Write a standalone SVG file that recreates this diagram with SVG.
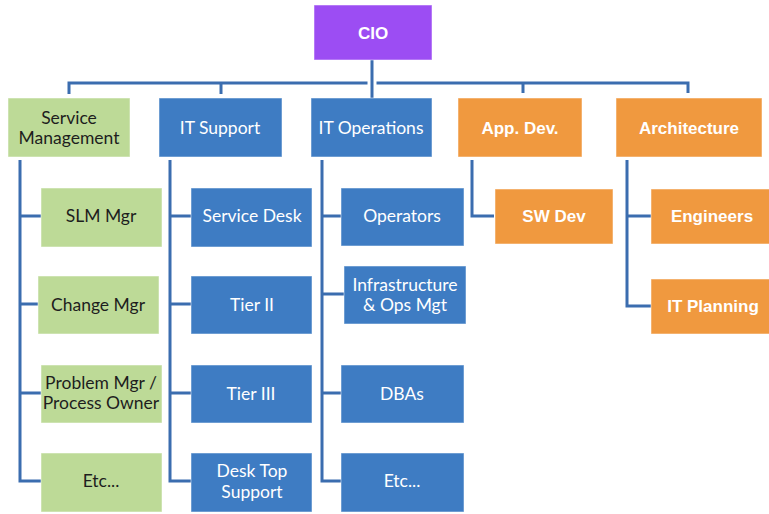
<svg xmlns="http://www.w3.org/2000/svg" width="769" height="514" viewBox="0 0 769 514">
<style>
.box{stroke:#ffffff;stroke-opacity:0.5;stroke-width:1}
.purple{fill:#9C4DF3}
.blue{fill:#3E7CC3}
.green{fill:#BDDA97}
.orange{fill:#F0993F}
.c{font-family:Lato,"Open Sans","DejaVu Sans",sans-serif;font-size:17.5px;text-anchor:middle}
.a{font-family:"Liberation Sans",Arial,sans-serif;font-size:17px;font-weight:bold;text-anchor:middle;fill:#ffffff}
.w{fill:#ffffff}
.d{fill:#1e1e1e}
.ln{fill:none;stroke:#3B6DAF;stroke-width:3;stroke-linejoin:miter}
</style>
<rect width="769" height="514" fill="#ffffff"/>
<g id="connectors">
<path class="ln" d="M69,94 V83 H688 V93"/>
<path class="ln" d="M221,83 V94"/>
<path class="ln" d="M523,83 V93"/>
<path d="M372,60 V98" fill="none" stroke="#ffffff" stroke-width="9"/>
<path class="ln" d="M372,60 V98"/>
<path class="ln" d="M20,160 V481 H41 M20,216 H41 M20,304 H38 M20,393 H41"/>
<path class="ln" d="M170,160 V481 H191 M170,216 H191 M170,304 H191 M170,393 H191"/>
<path class="ln" d="M322,160 V481 H341 M322,216 H341 M322,294 H344 M322,393 H341"/>
<path class="ln" d="M472,160 V216 H494"/>
<path class="ln" d="M627,160 V306 H651 M627,216 H651"/>
</g>
<g id="cio"><rect class="box purple" x="314" y="5" width="118" height="55"/><text class="a" x="373" y="39">CIO</text></g>
<g id="service-management"><rect class="box green" x="8" y="98" width="122" height="59"/><text class="c d" x="69" y="124">Service</text><text class="c d" x="69" y="144">Management</text></g>
<g id="it-support"><rect class="box blue" x="159" y="98" width="123" height="59"/><text class="c w" x="220" y="134">IT Support</text></g>
<g id="it-operations"><rect class="box blue" x="311" y="98" width="121" height="59"/><text class="c w" x="371" y="134">IT Operations</text></g>
<g id="app-dev"><rect class="box orange" x="458" y="98" width="124" height="59"/><text class="a" x="520" y="134">App. Dev.</text></g>
<g id="architecture"><rect class="box orange" x="616" y="98" width="146" height="59"/><text class="a" x="689" y="134">Architecture</text></g>
<g id="slm-mgr"><rect class="box green" x="41" y="188" width="121" height="59"/><text class="c d" x="101" y="222">SLM Mgr</text></g>
<g id="change-mgr"><rect class="box green" x="38" y="276" width="121" height="58"/><text class="c d" x="98" y="311">Change Mgr</text></g>
<g id="problem-mgr"><rect class="box green" x="41" y="365" width="121" height="58"/><text class="c d" x="101" y="389">Problem Mgr /</text><text class="c d" x="101" y="409">Process Owner</text></g>
<g id="etc-sm"><rect class="box green" x="41" y="453" width="121" height="59"/><text class="c d" x="101" y="487">Etc...</text></g>
<g id="service-desk"><rect class="box blue" x="191" y="188" width="121" height="59"/><text class="c w" x="252" y="222">Service Desk</text></g>
<g id="tier-ii"><rect class="box blue" x="191" y="276" width="121" height="58"/><text class="c w" x="252" y="311">Tier II</text></g>
<g id="tier-iii"><rect class="box blue" x="191" y="365" width="121" height="58"/><text class="c w" x="251" y="400">Tier III</text></g>
<g id="desk-top-support"><rect class="box blue" x="191" y="453" width="121" height="59"/><text class="c w" x="252" y="477">Desk Top</text><text class="c w" x="252" y="498">Support</text></g>
<g id="operators"><rect class="box blue" x="341" y="188" width="123" height="58"/><text class="c w" x="402" y="222">Operators</text></g>
<g id="infrastructure"><rect class="box blue" x="344" y="266" width="122" height="58"/><text class="c w" x="405" y="291">Infrastructure</text><text class="c w" x="405" y="311">&amp; Ops Mgt</text></g>
<g id="dbas"><rect class="box blue" x="341" y="365" width="123" height="58"/><text class="c w" x="402" y="400">DBAs</text></g>
<g id="etc-ops"><rect class="box blue" x="341" y="453" width="123" height="59"/><text class="c w" x="402" y="487">Etc...</text></g>
<g id="sw-dev"><rect class="box orange" x="495" y="189" width="118" height="55"/><text class="a" x="554" y="222">SW Dev</text></g>
<g id="engineers"><rect class="box orange" x="651" y="189" width="120" height="55"/><text class="a" x="712" y="222">Engineers</text></g>
<g id="it-planning"><rect class="box orange" x="651" y="279" width="120" height="55"/><text class="a" x="713" y="312">IT Planning</text></g>
</svg>
